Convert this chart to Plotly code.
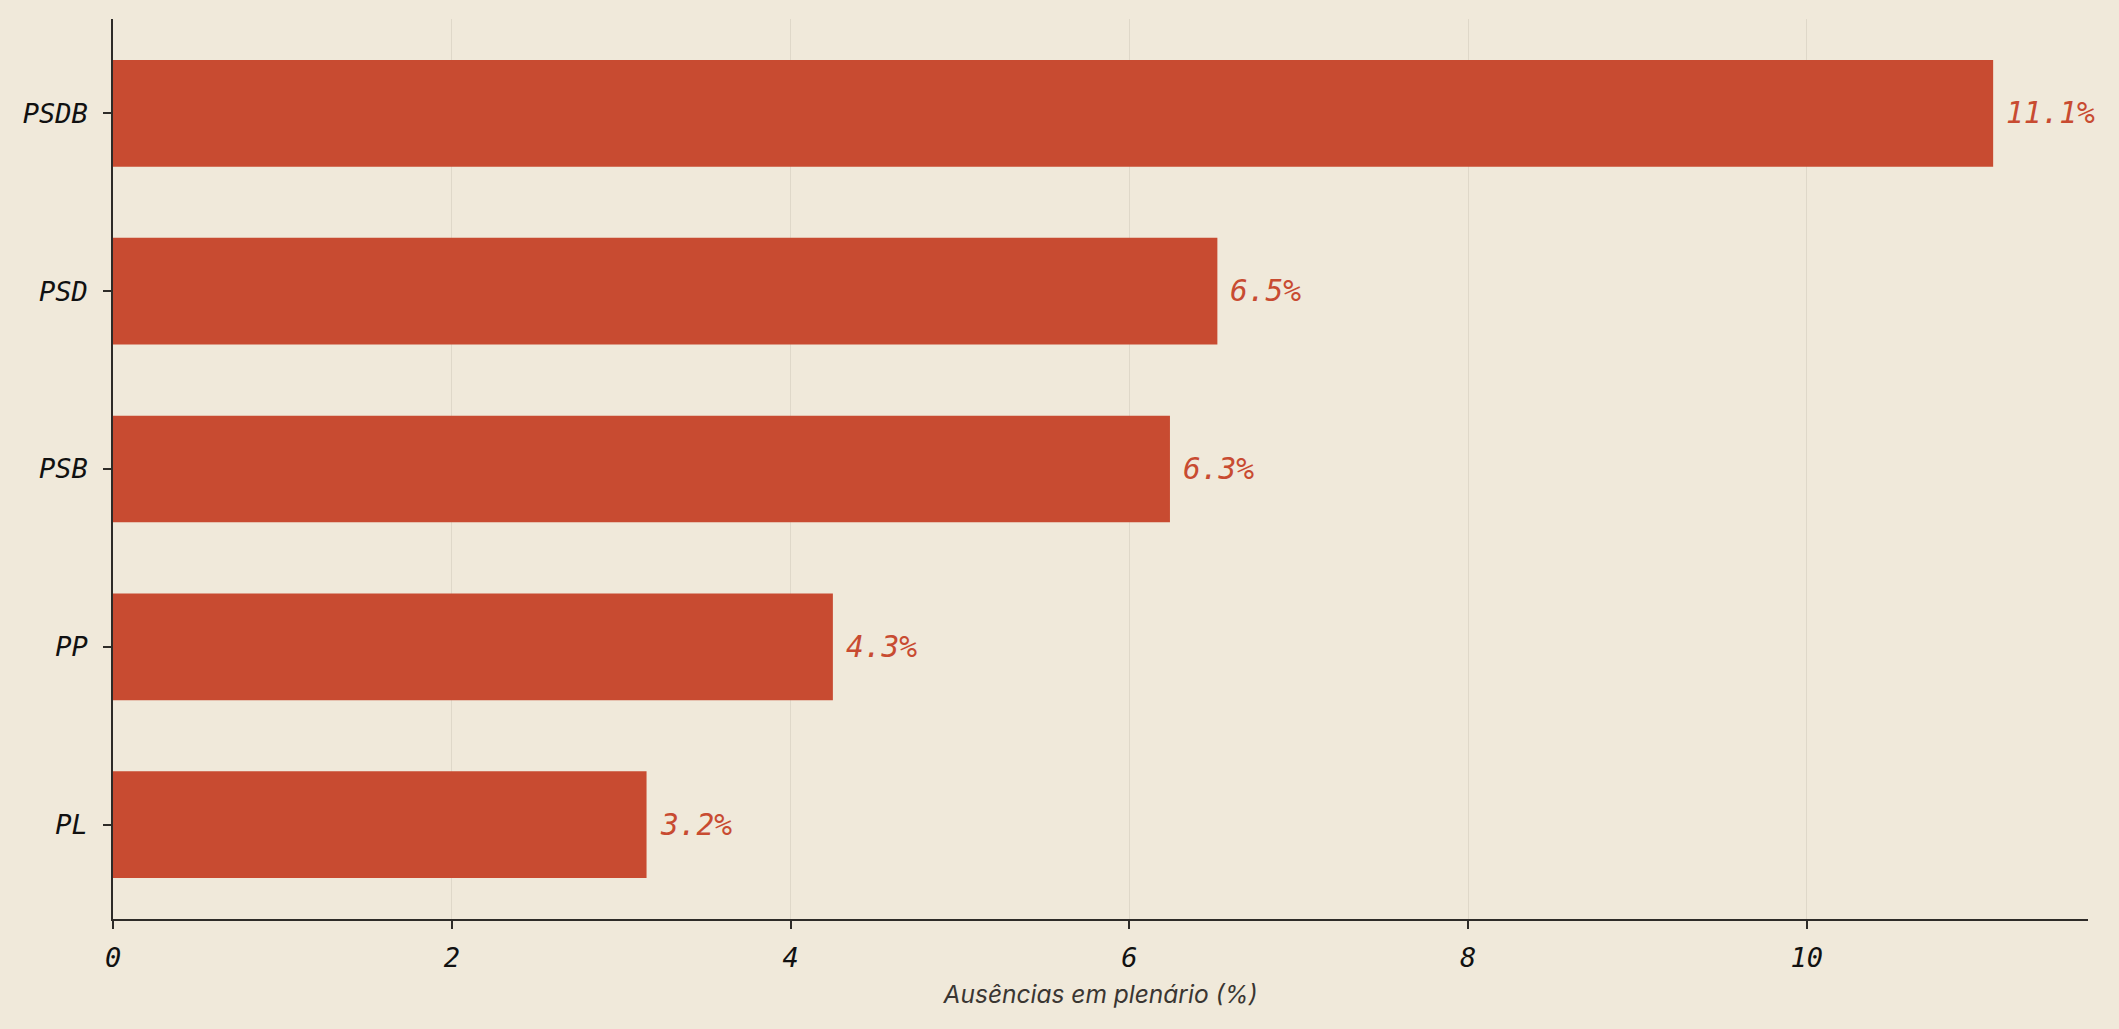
import plotly.graph_objects as go

parties = ["PL", "PP", "PSB", "PSD", "PSDB"]
absences = [3.15, 4.25, 6.24, 6.52, 11.1]
labels = ["3.2%", "4.3%", "6.3%", "6.5%", "11.1%"]
x_ticks = [0, 2, 4, 6, 8, 10]

BG = "#F0E9DA"
BAR = "#C84B31"
AX = "#2E2B28"

fig = go.Figure()
fig.add_trace(go.Bar(
    y=parties, x=absences, orientation="h",
    marker=dict(color=BAR, line=dict(width=0)),
    width=0.6, hoverinfo="skip",
))

for p, v, t in zip(parties, absences, labels):
    fig.add_annotation(x=v, y=p, text=t, showarrow=False, xanchor="left",
                       yanchor="middle", xshift=11,
                       font=dict(family="DejaVu Sans Mono", size=29.5, color=BAR,
                                 style="italic"))

fig.update_layout(
    width=2119, height=1029,
    paper_bgcolor=BG, plot_bgcolor=BG,
    margin=dict(l=113, r=31, t=19, b=110),
    showlegend=False,
    bargap=0.4,
)
fig.update_xaxes(
    range=[0, 11.66], tickvals=x_ticks, ticktext=[str(v) for v in x_ticks],
    showgrid=True, gridcolor="#DFD8C9", gridwidth=1,
    showline=True, linecolor=AX, linewidth=1.5,
    ticks="outside", ticklen=8, tickwidth=1.5, tickcolor=AX,
    tickfont=dict(family="DejaVu Sans Mono", size=27, color="#111111", style="italic"),
    ticklabelstandoff=6,
    zeroline=False,
    title=dict(text="Ausências em plenário (%)",
               font=dict(family="Inter", size=24.5, color="#3A3632", style="italic"),
               standoff=14),
)
fig.update_yaxes(
    range=[-0.53, 4.53], showgrid=False,
    showline=True, linecolor=AX, linewidth=1.5,
    ticks="outside", ticklen=8, tickwidth=1.5, tickcolor=AX,
    tickfont=dict(family="DejaVu Sans Mono", size=27, color="#111111", style="italic"),
    ticklabelstandoff=10,
    zeroline=False,
)

fig.write_html("out.html")
